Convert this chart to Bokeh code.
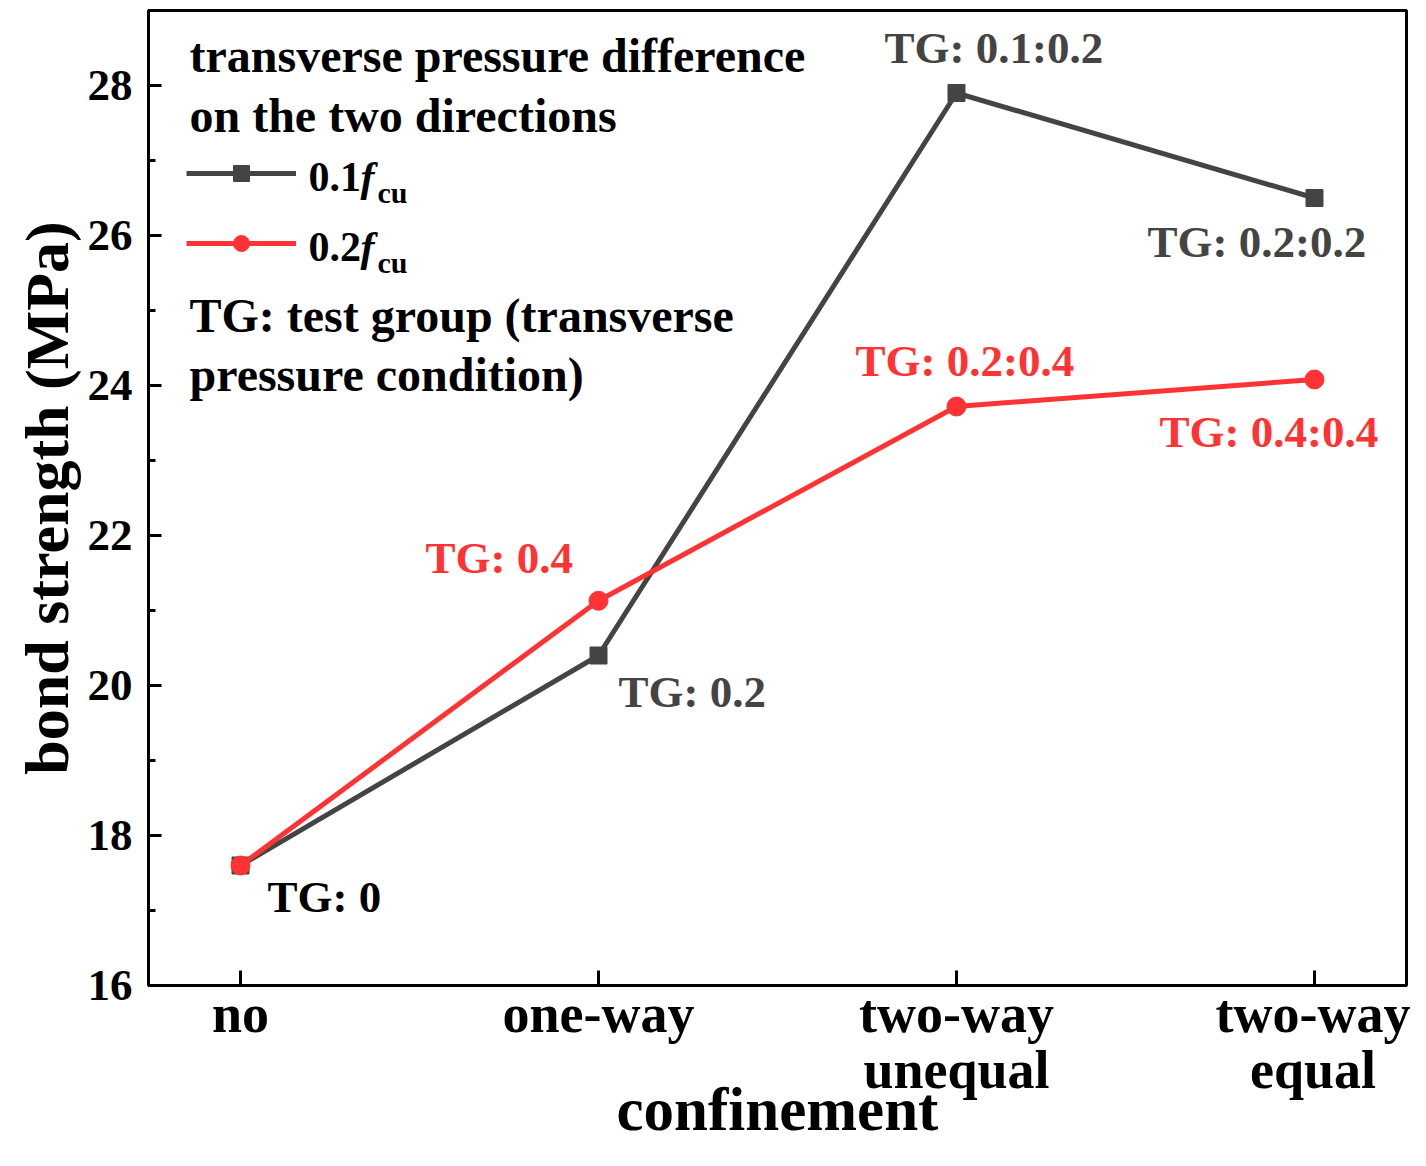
from bokeh.plotting import figure
from bokeh.models import (ColumnDataSource, FixedTicker, SingleIntervalTicker, Range1d,
                          Legend, LegendItem, Label)
from bokeh.core.properties import value
from bokeh.embed import file_html
from bokeh.resources import INLINE

# data
categories = ["no", "one-way", "two-way\nunequal", "two-way\nequal"]
low_fcu = [17.6, 20.4, 27.9, 26.5]      # 0.1 f_cu
high_fcu = [17.6, 21.13, 23.72, 24.08]  # 0.2 f_cu
low_tags = ["TG: 0", "TG: 0.2", "TG: 0.1:0.2", "TG: 0.2:0.2"]
high_tags = ["", "TG: 0.4", "TG: 0.2:0.4", "TG: 0.4:0.4"]

FONT = "Liberation Serif"
GRAY = "#444444"
RED = "#FF3333"

xs = list(range(len(categories)))

p = figure(width=1410, height=1150, output_backend="svg", toolbar_location=None,
           x_range=Range1d(-0.257, 3.257), y_range=Range1d(16, 29),
           min_border_left=148, min_border_right=4, min_border_top=10, min_border_bottom=165)
p.grid.visible = False
p.outline_line_color = "black"
p.outline_line_width = 3

# axes
p.xaxis.ticker = FixedTicker(ticks=xs)
p.xaxis.major_label_overrides = {i: c for i, c in enumerate(categories)}
p.yaxis.ticker = SingleIntervalTicker(interval=2, num_minor_ticks=2)
for ax in (p.xaxis[0], p.yaxis[0]):
    ax.axis_line_width = 3
    ax.major_tick_line_width = 3
    ax.minor_tick_line_width = 3
    ax.major_tick_out = 0
    ax.minor_tick_out = 0
    ax.major_label_text_font = FONT
    ax.major_label_text_font_style = "bold"
    ax.major_label_text_color = "black"
    ax.axis_label_text_font = FONT
    ax.axis_label_text_font_style = "bold"
    ax.axis_label_text_color = "black"
p.xaxis.major_tick_in = 15
p.xaxis.minor_tick_in = 0
p.xaxis.major_label_text_font_size = "54px"
p.xaxis.major_label_text_line_height = 0.945
p.xaxis.major_label_standoff = -2
p.xaxis.axis_label = "confinement"
p.xaxis.axis_label_text_font_size = "61px"
p.xaxis.axis_label_standoff = -27
p.yaxis.major_tick_in = 13
p.yaxis.minor_tick_in = 7
p.yaxis.major_label_text_font_size = "45px"
p.yaxis.major_label_standoff = 16
p.yaxis.axis_label = "bond strength (MPa)"
p.yaxis.axis_label_text_font_size = "62px"
p.yaxis.axis_label_standoff = 4

# series
l1 = p.line(xs, low_fcu, line_color=GRAY, line_width=5)
s1 = p.scatter(xs, low_fcu, marker="square", size=17, color=GRAY)
l2 = p.line(xs, high_fcu, line_color=RED, line_width=5)
s2 = p.scatter(xs, high_fcu, marker="circle", size=19, color=RED)

# point annotations
low_dx = [27, 20, -72, -167]
low_dy = [31, 36, -45, 44]
high_dx = [0, -173, -101, -155]
high_dy = [0, -43, -46, 52]
low_col = ["black", GRAY, GRAY, GRAY]
src_low = ColumnDataSource(dict(x=xs, y=low_fcu, t=low_tags, dx=low_dx, dy=low_dy, c=low_col))
src_high = ColumnDataSource(dict(x=xs, y=high_fcu, t=high_tags, dx=high_dx, dy=high_dy))
p.text("x", "y", text="t", x_offset="dx", y_offset="dy", source=src_low, text_color="c",
       text_font=value(FONT), text_font_style="bold", text_font_size="45px",
       text_align="left", text_baseline="middle")
p.text("x", "y", text="t", x_offset="dx", y_offset="dy", source=src_high, text_color=RED,
       text_font=value(FONT), text_font_style="bold", text_font_size="45px",
       text_align="left", text_baseline="middle")

# legend samples (labels drawn separately below)
legend = Legend(items=[LegendItem(label=" ", renderers=[l1, s1]),
                       LegendItem(label=" ", renderers=[l2, s2])],
                location=(38, 722), glyph_width=110, glyph_height=40, label_height=40,
                spacing=30, padding=0, margin=0, label_standoff=0, label_width=1,
                border_line_color=None, background_fill_alpha=0)
p.add_layout(legend)


def dx(px):
    return -0.257 + (px - 148) / 358.0


def dy(py):
    return 16 + (985 - py) / 75.0


def note(txt, px, base, size=48, style="bold"):
    # labels land about a quarter em below the asked baseline
    p.add_layout(Label(x=dx(px), y=dy(base - 0.27 * size), text=txt, text_font=FONT,
                       text_font_style=style, text_font_size=f"{size}px", text_color="black",
                       text_baseline="alphabetic"))


note("transverse pressure difference", 189, 68)
note("on the two directions", 189, 128)
note("TG: test group (transverse", 189, 328)
note("pressure condition)", 189, 387)
for base, row in ((188, "0.1"), (258, "0.2")):
    note(row, 308, base, size=42)
    note("f", 360, base, size=42, style="bold italic")
    note("cu", 377, base + 12, size=30)

open("out.html", "w").write(file_html(p, INLINE))
